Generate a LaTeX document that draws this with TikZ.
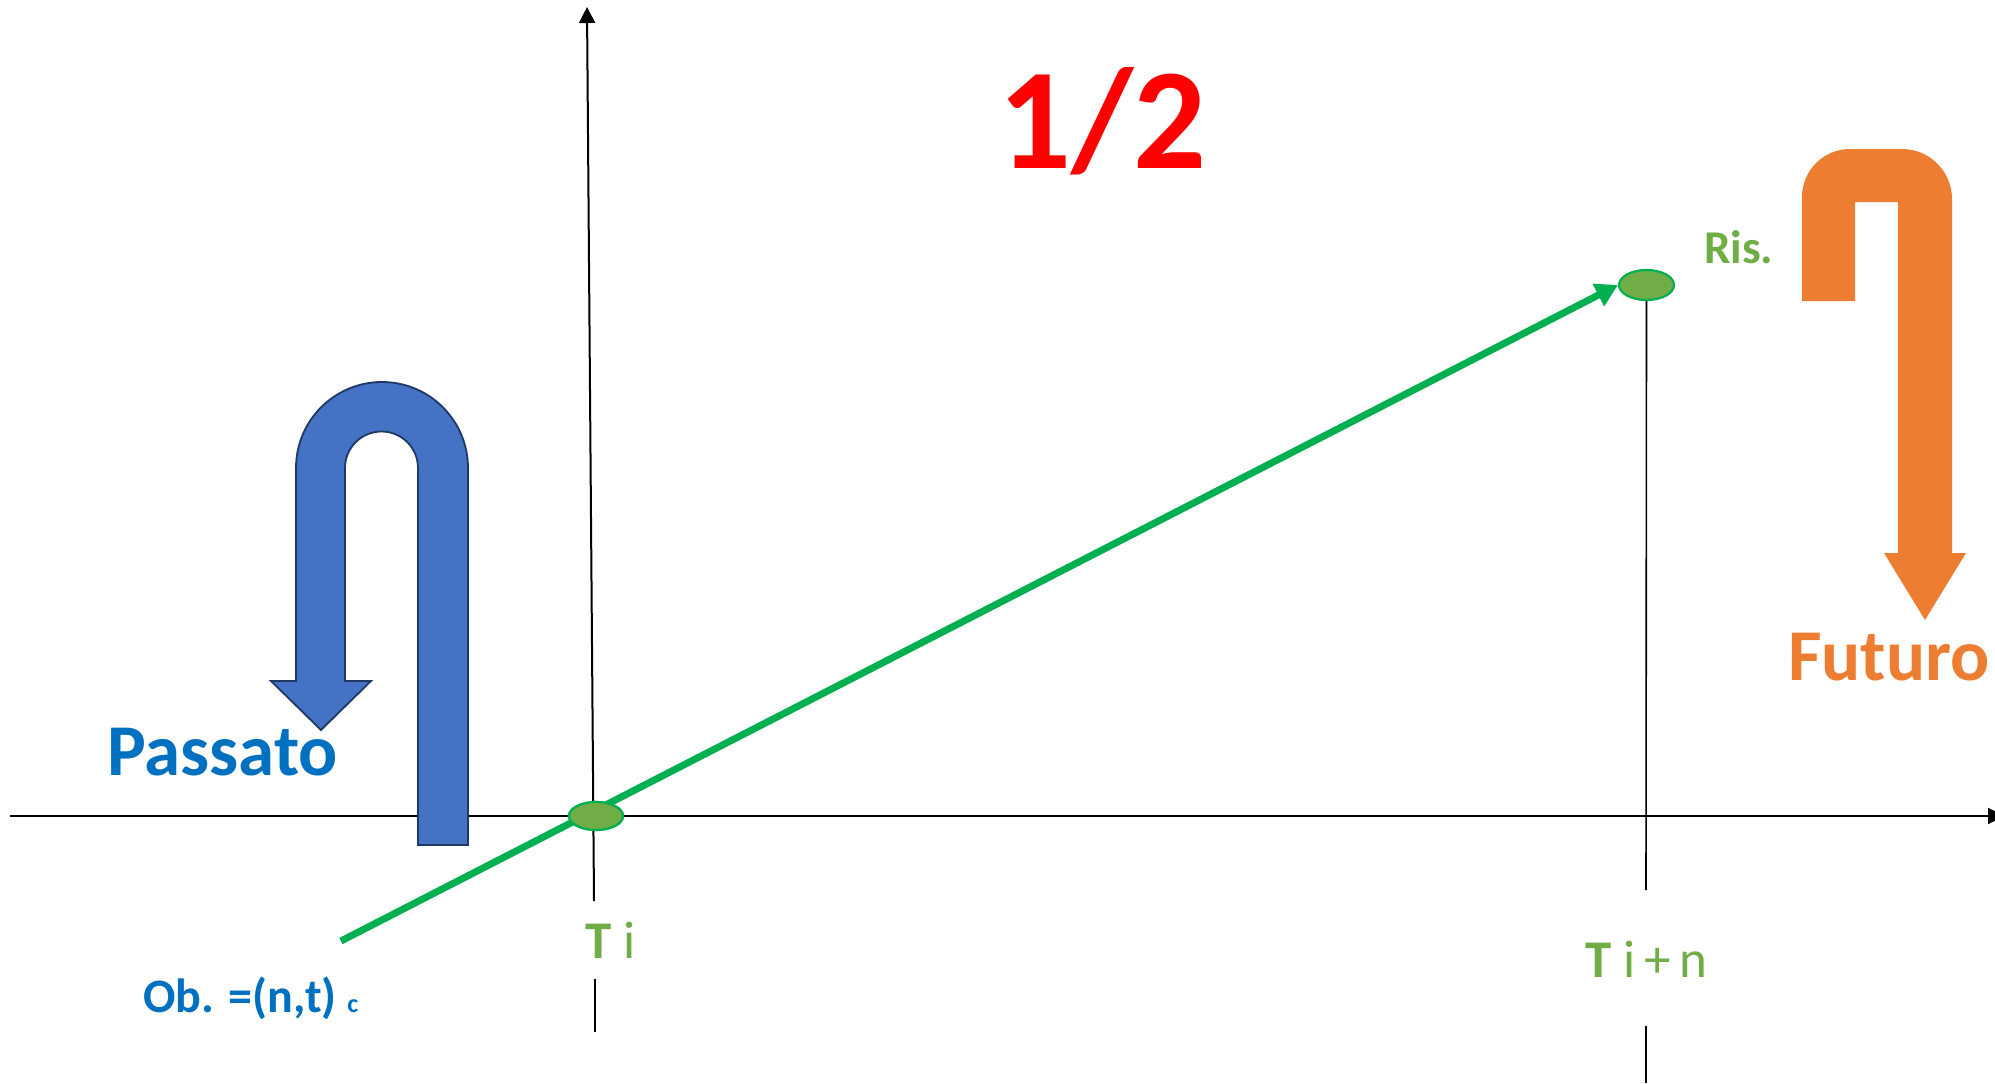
\documentclass[tikz,border=0pt]{standalone}
\usepackage{fontspec}
\setmainfont{Carlito}
\usetikzlibrary{arrows.meta,shapes.geometric}
\definecolor{tgreen}{HTML}{70AD47}
\definecolor{lgreen}{HTML}{00B050}
\definecolor{tblue}{HTML}{0070C0}
\definecolor{ablue}{HTML}{4472C4}
\definecolor{ablueb}{HTML}{1F3864}
\definecolor{torange}{HTML}{ED7D31}
\definecolor{tred}{HTML}{FF0000}
\tikzset{
  axis/.style={line width=2pt,-{Triangle[length=16pt,width=16pt]}},
  thin line/.style={line width=1.6pt},
  dot/.style={ellipse,draw=lgreen,fill=tgreen,line width=2.2pt,inner sep=0pt,minimum width=54pt,minimum height=28pt},
  lbl/.style={inner sep=0pt,anchor=base west},
}
\begin{document}
\begin{tikzpicture}[x=1pt,y=-1pt]
\useasboundingbox (0,0) rectangle (1995,1084);
% axes
\coordinate (xl) at (10,816);
\coordinate (xr) at (2004,816);
\coordinate (yb) at (594,901);
\coordinate (yt) at (587,7);
\draw[axis] (xl) -- (xr);
\draw[axis] (yb) -- (yt);
% lower tick segments
\coordinate (s1a) at (595,979);
\coordinate (s1b) at (595,1032);
\coordinate (s2a) at (1646,1026);
\coordinate (s2b) at (1646,1083);
\draw[thin line] (s1a) -- (s1b);
\draw[thin line] (s2a) -- (s2b);
% blue U-turn arrow
\draw[fill=ablue,draw=ablueb,line width=1.8pt,line join=miter]
  (468,845) -- (468,468) arc[start angle=0,end angle=-180,radius=86]
  -- (296,681) -- (271,681) -- (321,730) -- (371,681) -- (345,681)
  -- (345,468) arc[start angle=-180,end angle=0,radius=36.5]
  -- (418,845) -- cycle;
% orange arrow
\fill[torange]
  (1802,301) -- (1802,197) arc[start angle=180,end angle=270,radius=48]
  -- (1902,149) arc[start angle=270,end angle=360,radius=50]
  -- (1952,553) -- (1966,553) -- (1925,620) -- (1884,553) -- (1898,553)
  -- (1898,202) -- (1855,202) -- (1855,301) -- cycle;
% points
\node[dot] (ti) at (596,816) {};
\node[dot,minimum width=55pt,minimum height=30pt] (ris) at (1646.5,285) {};
\coordinate (risb) at (1646,890);
\draw[thin line] (ris.south) -- (risb);
% green line
\coordinate (ob) at (341,941);
\draw[lgreen,line width=7pt,-{Triangle[length=22pt,width=24pt]}] (ob) -- (ris.west);
\node[dot] at (ti) {};
% texts
\node[lbl,text=tred,font=\fontsize{144}{150}\selectfont\bfseries] (half) at (998,168) {1/2};
\node[lbl,text=tgreen,font=\fontsize{47}{50}\selectfont\bfseries] (rislbl) at (1704,263) {Ris.};
\node[lbl,text=tblue,font=\fontsize{73}{80}\selectfont\bfseries] (pass) at (107,775) {Passato};
\node[lbl,text=torange,font=\fontsize{73}{80}\selectfont\bfseries] (fut) at (1788,680) {Futuro};
\node[lbl,text=tblue,font=\fontsize{48}{54}\selectfont\bfseries] (oblbl) at (143,1012) {Ob. =(n,t) {\fontsize{26}{30}\selectfont c}};
\node[lbl,text=tgreen,font=\fontsize{53}{60}\selectfont] (tilbl) at (585,958) {\textbf{T} i};
\node[lbl,text=tgreen,font=\fontsize{53}{60}\selectfont] (tinlbl) at (1585,977) {\textbf{T} i\,+\,n};
\end{tikzpicture}
\end{document}
